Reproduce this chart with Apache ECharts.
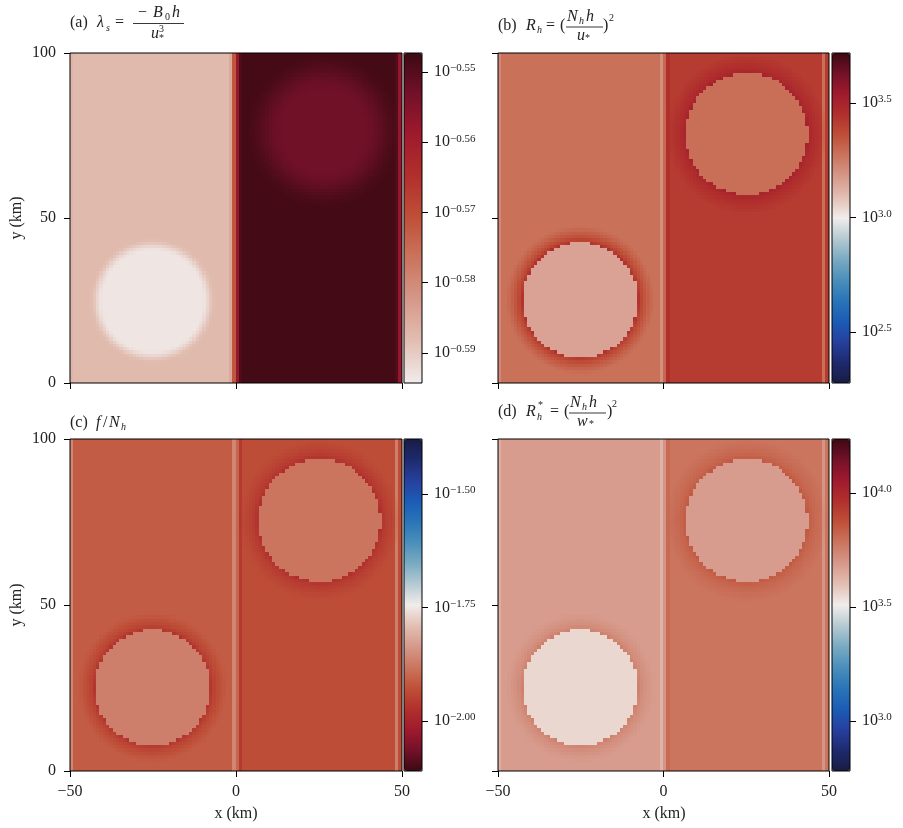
<!DOCTYPE html>
<html><head><meta charset="utf-8">
<script src="https://cdn.jsdelivr.net/npm/echarts@6/dist/echarts.min.js"></script>
<style>html,body{margin:0;padding:0;background:#fff}#c{width:903px;height:828px}</style>
</head><body><div id="c"></div>
<script>
// ---------- grid of 1-km cells ----------
const N = 100;
const xCenters = Array.from({length: N}, (_, i) => -49.5 + i);   // x (km)
const yCenters = Array.from({length: N}, (_, j) => 0.5 + j);     // y (km)

// ---------- shared circle geometry (km) ----------
const circleX = [-25, 25.3];
const circleY = [25.3, 75.6];
const circleR = [17.4, 18.4];

// ---------- (a) log10(lambda_s) ----------
const aHalfValues   = [-0.5877, -0.5482];          // left half, right half
const aCircleValues = [-0.5934, -0.5529];
const aCircleR      = [17, 18];
const aCircleX      = [-25, 26.5];
const aCircleY      = [25, 76.5];
const aCircleBlur   = [4, 12];
const aStripeX      = [-49.5, -1.5, -0.5, 0.5, 1.5, 48.5, 49.5];
const aStripeValues = [-0.5868, -0.5850, -0.5717, -0.5576, -0.5492, -0.5495, -0.5576];
const aRange        = [-0.5943, -0.5473];
const aTicks        = [-0.59, -0.58, -0.57, -0.56, -0.55];
const aTickLabels   = ['−0.59', '−0.58', '−0.57', '−0.56', '−0.55'];

// ---------- (b) log10(R_h) ----------
const bHalfValues   = [3.278, 3.415];
const bCircleValues = [3.156, 3.285];
const bHaloValues   = [3.47, 3.515];
const bHaloWidth    = [5, 6];
const bStripeX      = [-49.5, -0.5, 0.5, 1.5, 48.5];
const bStripeValues = [3.22, 3.20, 3.30, 3.45, 3.28];
const bRange        = [2.278, 3.717];
const bTicks        = [2.5, 3.0, 3.5];
const bTickLabels   = ['2.5', '3.0', '3.5'];

// ---------- (c) log10(f/N_h) ----------
const cHalfValues   = [-1.913, -1.931];
const cCircleValues = [-1.869, -1.883];
const cHaloValues   = [-1.975, -1.980];
const cHaloWidth    = [5, 6];
const cStripeX      = [-49.5, -0.5, 0.5, 1.5, 48.5];
const cStripeValues = [-1.86, -1.86, -1.90, -1.96, -1.87];
const cRange        = [-2.110, -1.379];
const cTicks        = [-2.0, -1.75, -1.5];
const cTickLabels   = ['−2.00', '−1.75', '−1.50'];

// ---------- (d) log10(R*_h) ----------
const dHalfValues   = [3.683, 3.785];
const dCircleValues = [3.552, 3.683];
const dHaloValues   = [3.763, 3.858];
const dHaloWidth    = [5, 6];
const dStripeX      = [-49.5, -0.5, 0.5, 1.5, 48.5];
const dStripeValues = [3.64, 3.63, 3.70, 3.81, 3.70];
const dRange        = [2.78, 4.237];
const dTicks        = [3.0, 3.5, 4.0];
const dTickLabels   = ['3.0', '3.5', '4.0'];

// ---------- colour map (diverging, navy-white-dark red) ----------
const balanceColors = ['#181c43','#1e2a6e','#27409e','#1b5cb5','#2a75b8','#4a8fbb','#7aaac2','#b5cad2',
  '#f1eceb','#e2bfb3','#d6998a','#cb755f','#bf5038','#b1302d','#a01a2d','#731129','#3c0912'];

const F = '"Liberation Serif", "DejaVu Serif", serif';

function buildField(half, stripeX, stripeVals, cx, cy, cr, cv, mode, p1, p2) {
  const out = [];
  for (let j = 0; j < N; j++) {
    for (let i = 0; i < N; i++) {
      const x = xCenters[i], y = yCenters[j];
      let v = x < 0 ? half[0] : half[1];
      const s = stripeX.indexOf(x);
      if (s >= 0) v = stripeVals[s];
      for (let k = 0; k < cx.length; k++) {
        const d = Math.hypot(x - cx[k], y - cy[k]);
        if (mode === 'soft') {
          const b = p1[k];
          let t = (d - (cr[k] - b / 2)) / b;
          t = Math.max(0, Math.min(1, t));
          const sm = t * t * (3 - 2 * t);
          v = cv[k] + (v - cv[k]) * sm;
        } else {
          if (d < cr[k]) v = cv[k];
          else if (d < cr[k] + p2[k]) {
            const t = (d - cr[k]) / p2[k];
            v = p1[k] + (v - p1[k]) * Math.sqrt(t);
          }
        }
      }
      out.push([x, y, v]);
    }
  }
  return out;
}

const panels = [
  { left: 70,  top: 53,  width: 332, height: 330, cbLeft: 404,
    data: buildField(aHalfValues, aStripeX, aStripeValues, aCircleX, aCircleY, aCircleR, aCircleValues, 'soft', aCircleBlur),
    range: aRange, colors: balanceColors.slice(8), ticks: aTicks, tickLabels: aTickLabels, xLab: false, yLab: true },
  { left: 498, top: 53,  width: 331, height: 330, cbLeft: 832,
    data: buildField(bHalfValues, bStripeX, bStripeValues, circleX, circleY, circleR, bCircleValues, 'halo', bHaloValues, bHaloWidth),
    range: bRange, colors: balanceColors, ticks: bTicks, tickLabels: bTickLabels, xLab: false, yLab: false },
  { left: 70,  top: 439, width: 332, height: 332, cbLeft: 404,
    data: buildField(cHalfValues, cStripeX, cStripeValues, circleX, circleY, circleR, cCircleValues, 'halo', cHaloValues, cHaloWidth),
    range: cRange, colors: balanceColors.slice().reverse(), ticks: cTicks, tickLabels: cTickLabels, xLab: true, yLab: true },
  { left: 498, top: 439, width: 331, height: 332, cbLeft: 832,
    data: buildField(dHalfValues, dStripeX, dStripeValues, circleX, circleY, circleR, dCircleValues, 'halo', dHaloValues, dHaloWidth),
    range: dRange, colors: balanceColors, ticks: dTicks, tickLabels: dTickLabels, xLab: true, yLab: false }
];

const grid = [], xAxis = [], yAxis = [], series = [], visualMap = [];
const tickStyle = { length: 6, lineStyle: { color: '#000', width: 1 } };
const lab = { fontFamily: F, fontSize: 16, color: '#222' };
const minus = v => (v < 0 ? '−' + (-v) : String(v));

function renderCell(params, api) {
  const x = api.value(0), y = api.value(1);
  const p0 = api.coord([x - 0.5, y + 0.5]);
  const p1 = api.coord([x + 0.5, y - 0.5]);
  const x0 = Math.floor(p0[0]), y0 = Math.floor(p0[1]);
  return { type: 'rect', silent: true,
    shape: { x: x0, y: y0, width: Math.ceil(p1[0]) - x0, height: Math.ceil(p1[1]) - y0 },
    style: { fill: api.visual('color'), stroke: null } };
}

panels.forEach((p, k) => {
  const g0 = grid.length;
  grid.push({ left: p.left, top: p.top, width: p.width, height: p.height, show: true, borderColor: '#000', borderWidth: 1, backgroundColor: 'transparent', z: 10 });
  grid.push({ left: p.cbLeft, top: p.top, width: 18, height: p.height, show: true, borderColor: '#000', borderWidth: 1, backgroundColor: 'transparent', z: 10 });

  xAxis.push({ gridIndex: g0, type: 'value', min: -50, max: 50, interval: 50, z: 10,
    axisLine: { show: false, onZero: false }, splitLine: { show: false }, axisTick: tickStyle,
    axisLabel: Object.assign({ show: p.xLab, margin: 13, formatter: minus }, lab) });
  yAxis.push({ gridIndex: g0, type: 'value', min: 0, max: 100, interval: 50, z: 10,
    axisLine: { show: false, onZero: false }, splitLine: { show: false }, axisTick: tickStyle,
    axisLabel: Object.assign({ show: p.yLab, margin: 14, formatter: v => String(v) }, lab) });

  xAxis.push({ gridIndex: g0 + 1, type: 'value', min: 0, max: 1, show: false });
  yAxis.push({ gridIndex: g0 + 1, type: 'value', position: 'right', min: p.range[0], max: p.range[1], z: 10,
    axisLine: { show: false, onZero: false }, splitLine: { show: false },
    axisTick: Object.assign({ customValues: p.ticks }, tickStyle),
    axisLabel: { customValues: p.ticks, margin: 12,
      formatter: v => { const i = p.ticks.findIndex(t => Math.abs(t - v) < 1e-9); return '{b|10}{s|' + (i >= 0 ? p.tickLabels[i] : '') + '}'; },
      rich: { b: { fontFamily: F, fontSize: 16, color: '#222', lineHeight: 18 },
              s: { fontFamily: F, fontSize: 11, color: '#222', lineHeight: 12, verticalAlign: 'top' } } } });

  series.push({ type: 'custom', xAxisIndex: g0, yAxisIndex: g0, data: p.data, renderItem: renderCell,
    encode: { x: 0, y: 1 }, progressive: 0, silent: true, z: 1, clip: false });

  visualMap.push({ type: 'continuous', seriesIndex: k, dimension: 2, min: p.range[0], max: p.range[1],
    inRange: { color: p.colors }, left: p.cbLeft, top: p.top, itemWidth: 18, itemHeight: p.height,
    padding: 0, calculable: false, showLabel: false, orient: 'vertical', hoverLink: false, z: 5 });
});

function t(x, y, text, o) {
  o = o || {};
  return { type: 'text', x: x, y: y, silent: true, z: 20,
    style: { text: text, fill: '#222', font: (o.it ? 'italic ' : '') + (o.size || 16) + 'px ' + F,
      align: o.align || 'left', verticalAlign: 'middle' } };
}
function bar(x1, x2, y) {
  return { type: 'line', silent: true, z: 20, shape: { x1: x1, y1: y, x2: x2, y2: y }, style: { stroke: '#222', lineWidth: 0.9 } };
}
const IT = { it: true }, SI = { it: true, size: 10 }, S = { size: 10 };

const graphic = [
  // (a)
  t(70, 23, '(a)'), t(97, 23, 'λ', IT), t(106, 28, 's', SI), t(115, 23, '='),
  t(138, 13, '−'), t(153, 13, 'B', IT), t(165, 17, '0', S), t(172, 13, 'h', IT),
  bar(133, 184, 23.5),
  t(151, 34, 'u', IT), t(159, 29, '3', S), t(159, 38, '*', S),
  // (b)
  t(498, 26, '(b)'), t(526, 26, 'R', IT), t(537, 30, 'h', SI), t(546, 26, '='), t(560, 26, '('),
  t(567, 17, 'N', IT), t(579, 21, 'h', SI), t(586, 17, 'h', IT),
  bar(566, 603, 27),
  t(577, 36, 'u', IT), t(585, 38, '*', S),
  t(603, 26, ')'), t(609, 18, '2', S),
  // (c)
  t(70, 423, '(c)'), t(96, 423, 'f', IT), t(103, 423, '/'), t(109, 423, 'N', IT), t(121, 427, 'h', SI),
  // (d)
  t(498, 412, '(d)'), t(526, 412, 'R', IT), t(538, 405, '*', S), t(537, 417, 'h', SI), t(550, 412, '='), t(564, 412, '('),
  t(570, 403, 'N', IT), t(582, 407, 'h', SI), t(589, 403, 'h', IT),
  bar(569, 606, 413),
  t(577, 422, 'w', IT), t(589, 424, '*', S),
  t(607, 412, ')'), t(612, 404, '2', S),
  // axis names
  Object.assign(t(17, 218, 'y (km)', { align: 'center' }), { rotation: Math.PI / 2 }),
  Object.assign(t(17, 605, 'y (km)', { align: 'center' }), { rotation: Math.PI / 2 }),
  t(236, 814, 'x (km)', { align: 'center' }),
  t(664, 814, 'x (km)', { align: 'center' })
];

const chart = echarts.init(document.getElementById('c'), null, { renderer: 'canvas' });
chart.setOption({ animation: false, backgroundColor: '#fff', grid, xAxis, yAxis, series, visualMap, graphic });
</script></body></html>
